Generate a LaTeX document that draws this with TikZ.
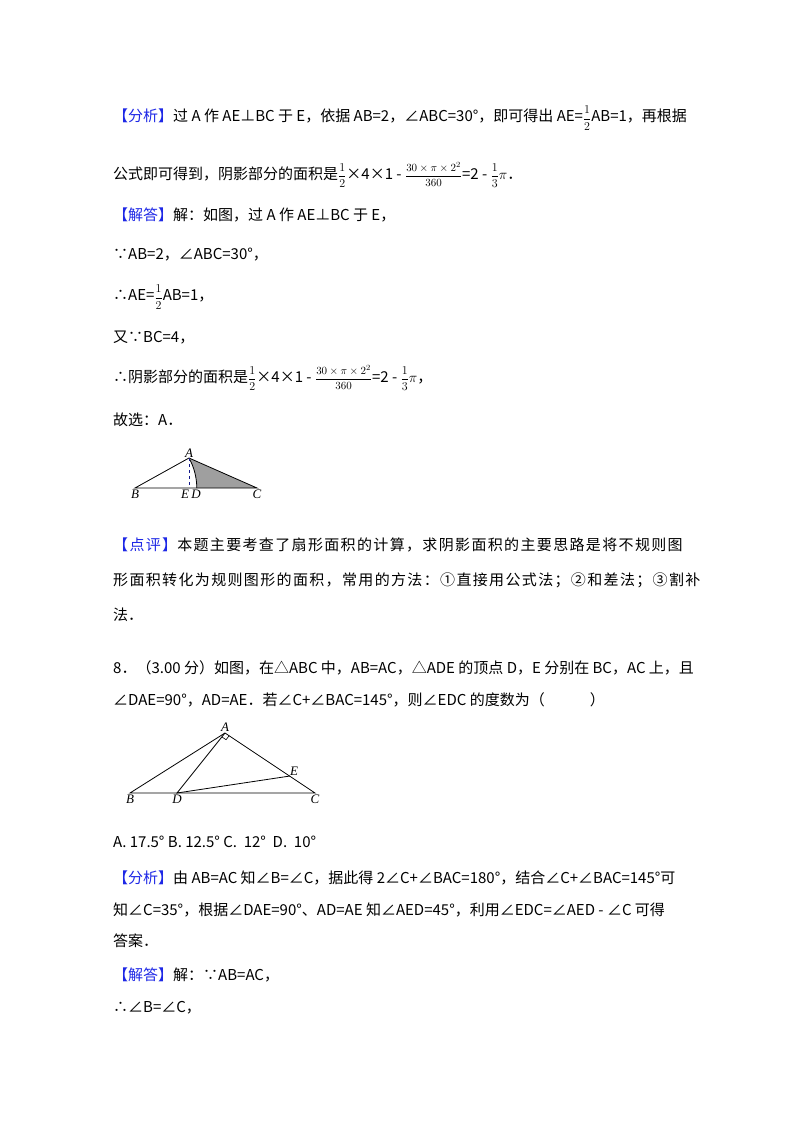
\documentclass[tikz,border=0pt]{standalone}
\usepackage{fontspec}
\usetikzlibrary{calc}
\newfontfamily\cjk{Noto Sans CJK SC}
\newfontfamily\cjkw[LetterSpace=9]{Noto Sans CJK SC}
\newfontfamily\lbl{Liberation Serif}
\definecolor{mblue}{RGB}{30,40,230}
\begin{document}
\begin{tikzpicture}[x=1pt,y=-1pt,
  txt/.style={anchor=west,inner sep=0pt,font=\cjk\fontsize{15}{18}\selectfont},
  txtw/.style={anchor=west,inner sep=0pt,font=\cjkw\fontsize{15}{18}\selectfont},
  lab/.style={inner sep=0pt,font=\lbl\itshape\fontsize{13}{14}\selectfont},
  ln/.style={line width=0.8pt}]
\useasboundingbox (0,0) rectangle (800,1132);
\fill[white] (0,0) rectangle (800,1132);
\newcommand{\hd}[1]{{\color{mblue}【#1】}}
\newcommand{\fr}[2]{{\fontsize{12}{12}\selectfont$\displaystyle\frac{#1}{#2}$}}
\newcommand{\bigfr}{{\fontsize{11}{11}\selectfont$\displaystyle\frac{30\times\pi\times2^2}{360}$}}
\node[txt] (t1) at (113,118) {\hd{分析}过 A 作 AE⊥BC 于 E，依据 AB=2，∠ABC=30°，即可得出 AE=\fr{1}{2}AB=1，再根据};
\node[txt] (t2) at (113,175) {公式即可得到，阴影部分的面积是\fr{1}{2}×4×1 - \bigfr=2 - \fr{1}{3}$\pi$．};
\node[txt] (t3) at (113,215) {\hd{解答}解：如图，过 A 作 AE⊥BC 于 E，};
\node[txt] (t4) at (113,255) {∵AB=2，∠ABC=30°，};
\node[txt] (t5) at (113,297) {∴AE=\fr{1}{2}AB=1，};
\node[txt] (t6) at (113,338) {又∵BC=4，};
\node[txt] (t7) at (113,378) {∴阴影部分的面积是\fr{1}{2}×4×1 - \bigfr=2 - \fr{1}{3}$\pi$，};
\node[txt] (t8) at (113,420) {故选：A．};
% figure 1
\coordinate (B1) at (135,488);
\coordinate (A1) at (189,458);
\coordinate (C1) at (257,488);
\coordinate (D1) at (197,488);
\coordinate (E1) at (189,488);
\fill[gray!75] (A1) arc[start angle=-29.05,end angle=0,radius=61.8] -- (C1) -- cycle;
\draw[ln] (A1) arc[start angle=-29.05,end angle=0,radius=61.8];
\draw[ln] (B1) -- (C1) -- (A1) -- cycle;
\draw[ln,dashed,mblue!60!black] (A1) -- (E1);
\node[lab,above] (lA1) at (A1) {A};
\node[lab,below=2pt] (lB1) at (B1) {B};
\node[lab,below=2pt] (lE1) at (185,488) {E};
\node[lab,below=2pt] (lD1) at (196,488) {D};
\node[lab,below=2pt] (lC1) at (C1) {C};
\node[txtw] (t9) at (113,545) {\hd{点评}本题主要考查了扇形面积的计算，求阴影面积的主要思路是将不规则图};
\node[txtw] (t10) at (113,580) {形面积转化为规则图形的面积，常用的方法：①直接用公式法；②和差法；③割补};
\node[txt] (t11) at (113,615) {法．};
\node[txt] (t12) at (113,668) {8．（3.00 分）如图，在△ABC 中，AB=AC，△ADE 的顶点 D，E 分别在 BC，AC 上，且};
\node[txt] (t13) at (113,700) {∠DAE=90°，AD=AE．若∠C+∠BAC=145°，则∠EDC 的度数为（\hspace{3em}）};
% figure 2
\coordinate (A2) at (225,733);
\coordinate (B2) at (130,793);
\coordinate (C2) at (315,793);
\coordinate (D2) at (177,793);
\coordinate (E2) at (290,776);
\draw[ln] (B2) -- (C2) -- (A2) -- cycle;
\draw[ln] (A2) -- (D2) -- (E2);
\coordinate (P2) at ($(A2)!5pt!(D2)$);
\coordinate (Q2) at ($(A2)!5pt!(E2)$);
\draw[line width=0.6pt] (P2) -- ($(P2)+(Q2)-(A2)$) -- (Q2);
\node[lab,above=1pt] (lA2) at (A2) {A};
\node[lab,below=2pt] (lB2) at (B2) {B};
\node[lab,below=2pt] (lC2) at (C2) {C};
\node[lab,below=2pt] (lD2) at (D2) {D};
\node[lab,above right=0pt] (lE2) at (E2) {E};
\node[txt] (t14) at (113,842) {A. 17.5° B. 12.5° C.\ \ 12°\ \ D.\ \ 10°};
\node[txt] (t15) at (113,878) {\hd{分析}由 AB=AC 知∠B=∠C，据此得 2∠C+∠BAC=180°，结合∠C+∠BAC=145°可};
\node[txt] (t16) at (113,910) {知∠C=35°，根据∠DAE=90°、AD=AE 知∠AED=45°，利用∠EDC=∠AED - ∠C 可得};
\node[txt] (t17) at (113,941) {答案．};
\node[txt] (t18) at (113,975) {\hd{解答}解：∵AB=AC，};
\node[txt] (t19) at (113,1008) {∴∠B=∠C，};
\end{tikzpicture}
\end{document}
